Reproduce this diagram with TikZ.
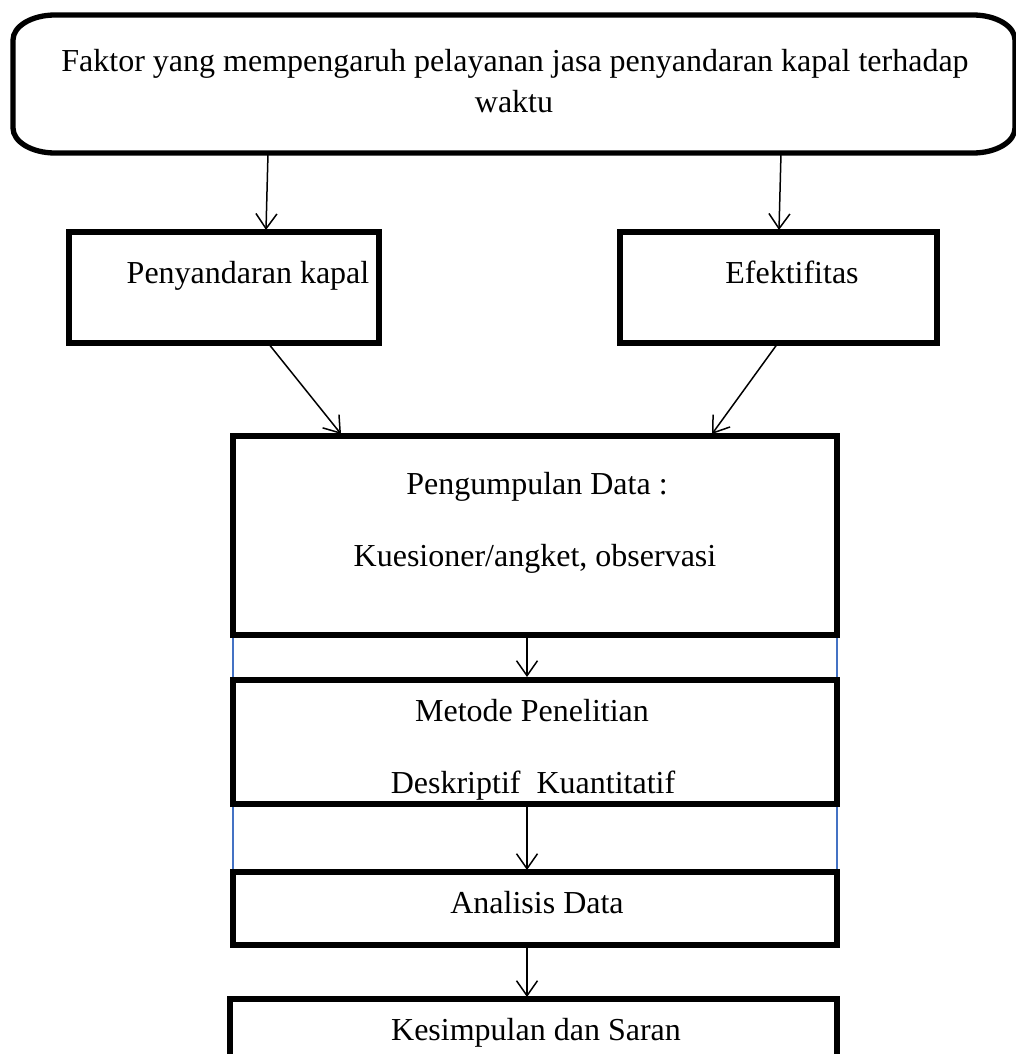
\documentclass[tikz,border=0pt]{standalone}
\usepackage{fontspec}
\setmainfont{Liberation Serif}
\usetikzlibrary{arrows.meta}
\definecolor{bluel}{HTML}{4472C4}
\begin{document}
\begin{tikzpicture}[x=1pt,y=-1pt,
  box/.style={draw=black,line width=5.3pt,rectangle,inner sep=0pt,fill=white},
  txt/.style={anchor=base,inner sep=0pt,font=\fontsize{32}{40}\selectfont},
  conn/.style={draw=black,line width=1.5pt,-{Straight Barb[length=15pt,width=21pt,line width=1.5pt]}},
  guide/.style={draw=bluel,line width=1.3pt}]
\useasboundingbox (0,0) rectangle (1016,1054);
% blue guide lines
\draw[guide] (233,638) -- (233,677);
\draw[guide] (837,638) -- (837,677);
\draw[guide] (233,806) -- (233,870);
\draw[guide] (837,806) -- (837,870);
% top rounded box
\draw[line width=5.3pt,fill=white] (55,15) -- (973,15) arc[start angle=-90,end angle=0,x radius=42,y radius=25]
  -- (1015,128) arc[start angle=0,end angle=90,x radius=42,y radius=25]
  -- (55,153) arc[start angle=90,end angle=180,x radius=42,y radius=25]
  -- (13,40) arc[start angle=180,end angle=270,x radius=42,y radius=25] -- cycle;
\node[inner sep=0pt,minimum width=1002pt,minimum height=138pt] (top) at (514,84) {};
\node[txt] (t1) at (515,72) {Faktor yang mempengaruh pelayanan jasa penyandaran kapal terhadap};
\node[txt] (t2) at (514,113) {waktu};
% second row boxes
\node[box,minimum width=310pt,minimum height=111pt] (pk) at (224,287.5) {};
\node[txt] (pkt) at (248,283) {Penyandaran kapal};
\node[box,minimum width=317pt,minimum height=111pt] (ef) at (778.5,287.5) {};
\node[txt] (eft) at (792,283) {Efektifitas};
% pengumpulan
\node[box,minimum width=604pt,minimum height=199pt] (pd) at (535,535.5) {};
\node[txt] (pd1) at (537,494) {Pengumpulan Data :};
\node[txt] (pd2) at (535,566) {Kuesioner/angket, observasi};
% metode
\node[box,minimum width=604pt,minimum height=124pt] (mp) at (535,742) {};
\node[txt] (mp1) at (532,721) {Metode Penelitian};
\node[txt] (mp2) at (533,793) {Deskriptif\ \ Kuantitatif};
% analisis
\node[box,minimum width=604pt,minimum height=73pt] (ad) at (535,908.5) {};
\node[txt] (adt) at (537,913) {Analisis Data};
% kesimpulan
\node[box,minimum width=607pt,minimum height=90pt] (ks) at (533.5,1044) {};
\node[txt] (kst) at (536,1040) {Kesimpulan dan Saran};
% connector endpoints
\coordinate (a1s) at (268,153);
\coordinate (a1e) at (266,230);
\coordinate (a2s) at (781,153);
\coordinate (a2e) at (779,230);
\coordinate (a3s) at (268,343);
\coordinate (a3e) at (341,434);
\coordinate (a4s) at (778,343);
\coordinate (a4e) at (712,434);
\coordinate (a5s) at (527,636);
\coordinate (a5e) at (527,677);
\coordinate (a6s) at (527,804);
\coordinate (a6e) at (527,870);
\coordinate (a7s) at (527,945);
\coordinate (a7e) at (527,997);
\draw[conn] (a1s) -- (a1e);
\draw[conn] (a2s) -- (a2e);
\draw[conn] (a3s) -- (a3e);
\draw[conn] (a4s) -- (a4e);
\draw[conn] (a5s) -- (a5e);
\draw[conn] (a6s) -- (a6e);
\draw[conn] (a7s) -- (a7e);
\end{tikzpicture}
\end{document}
